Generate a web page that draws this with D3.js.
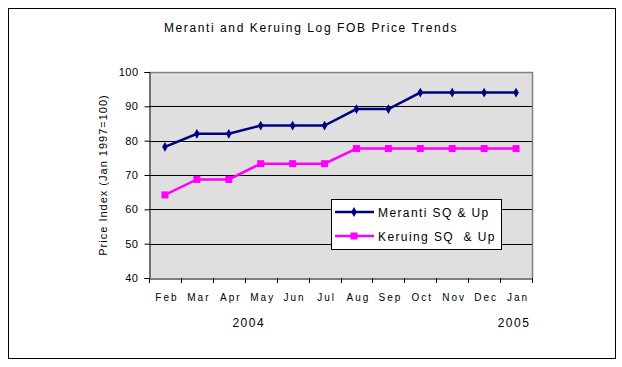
<!DOCTYPE html>
<html><head><meta charset="utf-8">
<script src="https://cdn.jsdelivr.net/npm/d3@7"></script>
<style>body{margin:0;background:#fff}svg text{font-family:"Liberation Sans",Arial,sans-serif;fill:#000}</style>
</head><body><svg id="c" width="622" height="367"></svg>
<script>
const months = ["Feb","Mar","Apr","May","Jun","Jul","Aug","Sep","Oct","Nov","Dec","Jan"];
const meranti = [78.2,82,82,84.4,84.4,84.4,89.2,89.2,94,94,94,94];
const keruing = [64.2,68.7,68.7,73.3,73.3,73.3,77.7,77.7,77.7,77.7,77.7,77.7];
const yTicks = [40,50,60,70,80,90,100];
const years = [{label:"2004",pos:"Apr"},{label:"2005",pos:"Jan"}];

const svg = d3.select("#c");
const defs = svg.append("defs");
const pat = defs.append("pattern").attr("id","dots").attr("width",2).attr("height",2).attr("patternUnits","userSpaceOnUse");
pat.append("rect").attr("width",2).attr("height",2).attr("fill","#e4e4e4");
pat.append("rect").attr("width",1).attr("height",1).attr("fill","#dadada");
pat.append("rect").attr("x",1).attr("y",1).attr("width",1).attr("height",1).attr("fill","#dadada");

svg.append("rect").attr("x",8.5).attr("y",8.5).attr("width",607).attr("height",350).attr("fill","#fff").attr("stroke","#000");

const L=149, R=532, T=72, B=278;
const x = d3.scaleBand().domain(months).range([L,R]);
const y = d3.scaleLinear().domain([40,100]).range([B,T]);

svg.append("rect").attr("x",L).attr("y",T).attr("width",R-L).attr("height",B-T).attr("fill","url(#dots)");
svg.append("path").attr("d",`M${L},${T+0.5}H${R+0.5}V${B}`).attr("fill","none").attr("stroke","#808080").attr("stroke-width",1.5);

svg.append("g").selectAll("line").data(yTicks.filter(d=>d>40&&d<100)).join("line")
  .attr("x1",L).attr("x2",R).attr("y1",d=>Math.round(y(d))+0.5).attr("y2",d=>Math.round(y(d))+0.5).attr("stroke","#000");

const yAxis = svg.append("g").attr("transform",`translate(${L+0.5},0)`)
  .call(d3.axisLeft(y).tickValues(yTicks).tickSize(5).tickPadding(6));
yAxis.select(".domain").attr("stroke","#000");
yAxis.selectAll("text").attr("font-size",11).attr("letter-spacing","0.5px");

const xAxis = svg.append("g").attr("transform",`translate(0,${B+0.5})`)
  .call(d3.axisBottom(x).tickSize(0).tickFormat(""));
xAxis.select(".domain").attr("stroke","#000");
const edges = d3.range(months.length+1).map(i=>L+i*x.bandwidth());
svg.append("g").selectAll("line").data(edges).join("line")
  .attr("x1",d=>Math.round(d)+0.5).attr("x2",d=>Math.round(d)+0.5).attr("y1",B).attr("y2",B+5).attr("stroke","#000");
svg.append("g").selectAll("text").data(months).join("text")
  .attr("x",d=>x(d)+x.bandwidth()/2+2).attr("y",301).attr("text-anchor","middle")
  .attr("font-size",10).attr("letter-spacing","2px").text(d=>d);
svg.append("g").selectAll("text").data(years).join("text")
  .attr("x",d=>x(d.pos)+x.bandwidth()/2+ (d.label==="2004"?20:-2)).attr("y",327).attr("text-anchor","middle")
  .attr("font-size",12).attr("letter-spacing","1.5px").text(d=>d.label);

svg.append("text").attr("transform","translate(107,175) rotate(-90)").attr("text-anchor","middle")
  .attr("font-size",11).attr("letter-spacing","1px").text("Price Index (Jan 1997=100)");
svg.append("text").attr("x",311).attr("y",32).attr("text-anchor","middle")
  .attr("font-size",12).attr("letter-spacing","1.6px").text("Meranti and Keruing Log FOB Price Trends");

const line = d3.line().x((d,i)=>x(months[i])+x.bandwidth()/2).y(d=>y(d));
svg.append("path").datum(keruing).attr("d",line).attr("fill","none").attr("stroke","#ff00ff").attr("stroke-width",2.5);
svg.append("g").selectAll("rect").data(keruing).join("rect")
  .attr("x",(d,i)=>x(months[i])+x.bandwidth()/2-3.5).attr("y",d=>y(d)-3.5).attr("width",7).attr("height",7).attr("fill","#ff00ff");
svg.append("path").datum(meranti).attr("d",line).attr("fill","none").attr("stroke","#000080").attr("stroke-width",2.5);
const tri = d3.symbol().type(d3.symbolDiamond).size(28);
svg.append("g").selectAll("path").data(meranti).join("path")
  .attr("transform",(d,i)=>`translate(${x(months[i])+x.bandwidth()/2},${y(d)})`).attr("d",tri).attr("fill","#000080");

const lg = svg.append("g");
lg.append("rect").attr("x",331.5).attr("y",199.5).attr("width",170).attr("height",50).attr("fill","#fff").attr("stroke","#000");
const items=[{name:"Meranti SQ & Up",c:"#000080",yy:212,m:"d"},{name:"Keruing SQ  & Up",c:"#ff00ff",yy:236,m:"s"}];
items.forEach(it=>{
  lg.append("line").attr("x1",335).attr("x2",374).attr("y1",it.yy).attr("y2",it.yy).attr("stroke",it.c).attr("stroke-width",2.5);
  if(it.m==="d") lg.append("path").attr("transform",`translate(354,${it.yy})`).attr("d",tri).attr("fill",it.c);
  else lg.append("rect").attr("x",350.5).attr("y",it.yy-3.5).attr("width",7).attr("height",7).attr("fill",it.c);
  lg.append("text").attr("x",378).attr("y",it.yy+4.5).attr("font-size",12).attr("letter-spacing","1.4px")
    .style("white-space","pre").text(it.name);
});
</script></body></html>
